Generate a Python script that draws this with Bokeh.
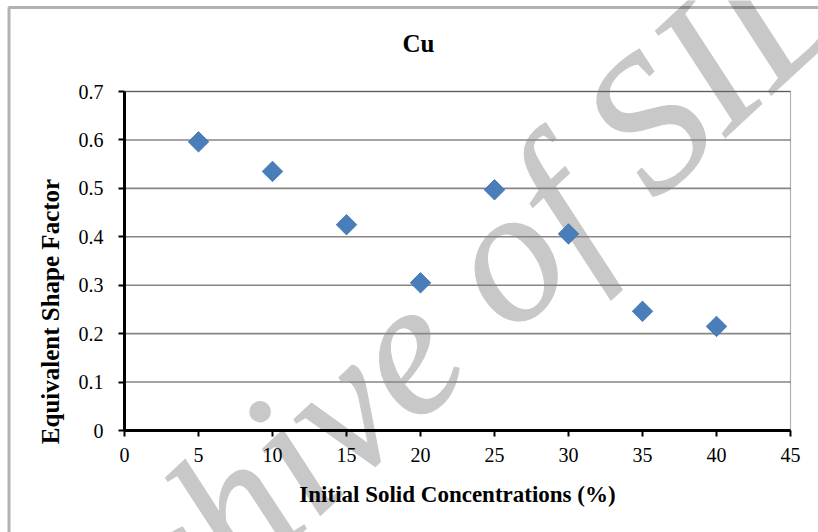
import math
from bokeh.plotting import figure
from bokeh.models import ColumnDataSource, FixedTicker, Label, BoxAnnotation, Range1d
from bokeh.embed import file_html
from bokeh.resources import INLINE

# ---- data ----
concentration = [5, 10, 15, 20, 25, 30, 35, 40]
shape_factor = [0.596, 0.535, 0.425, 0.305, 0.497, 0.406, 0.246, 0.215]
x_ticks = [0, 5, 10, 15, 20, 25, 30, 35, 40, 45]
x_tick_labels = ["0", "5", "10", "15", "20", "25", "30", "35", "40", "45"]
y_ticks = [0, 0.1, 0.2, 0.3, 0.4, 0.5, 0.6, 0.7]
y_tick_labels = ["0", "0.1", "0.2", "0.3", "0.4", "0.5", "0.6", "0.7"]
title_text = "Cu"
x_title = "Initial Solid Concentrations (%)"
y_title = "Equivalent Shape Factor"
watermark_text = "Archive of SID"

# ---- layout (pixels) ----
W, H = 818, 532
FL, FR, FT, FB = 124, 790, 91, 430      # plot-area edges on the canvas
X0, X1 = 0, 45
Y0, Y1 = 0, 0.7


def dx(px):
    return X0 + (px - FL) / (FR - FL) * (X1 - X0)


def dy(py):
    return Y0 + (FB - py) / (FB - FT) * (Y1 - Y0)


FONT = "Liberation Serif"
U = "canvas"

# the frame covers the whole canvas so that nothing is clipped;
# the data ranges are widened so that 0..45 / 0..0.7 land on the plot area
p = figure(width=W, height=H, output_backend="svg", toolbar_location=None,
           x_range=Range1d(dx(0), dx(W)), y_range=Range1d(dy(H), dy(0)),
           min_border=0)
try:
    p.title = None
except Exception:
    p.title.visible = False
p.background_fill_color = "white"
p.border_fill_color = "white"
p.outline_line_color = None
p.xgrid.visible = False
p.ygrid.visible = False

# watermark (under everything else)
wm = dict(x=415, y=338, x_units=U, y_units=U, text=watermark_text,
          angle=math.radians(43), text_align="center", text_baseline="middle",
          text_font=FONT, text_font_size="192px", text_font_style="italic",
          text_color="#c8c8c8", level="underlay")
if "text_outline_color" in Label.properties():
    wm["text_outline_color"] = "#c8c8c8"
p.add_layout(Label(**wm))

# horizontal gridlines
grid_src = ColumnDataSource(dict(x0=[X0] * len(y_ticks), x1=[X1] * len(y_ticks),
                                 y=y_ticks))
p.segment(x0="x0", x1="x1", y0="y", y1="y", source=grid_src,
          line_color="#868686", line_width=1.6)

# plot-area border
p.add_layout(BoxAnnotation(left=X0, right=X1, bottom=Y0, top=Y1,
                           fill_alpha=0, line_color="black", line_width=1.2))

# axes drawn at the data origin
xa, ya = p.xaxis[0], p.yaxis[0]
xa.fixed_location = Y0
ya.fixed_location = X0
xa.bounds = (X0, X1)
ya.bounds = (Y0, Y1)
for ax in (xa, ya):
    ax.axis_line_color = "black"
    ax.axis_line_width = 3
    ax.major_tick_line_color = "black"
    ax.major_tick_line_width = 2
    ax.major_tick_out = 6
    ax.major_tick_in = 0
    ax.minor_tick_line_color = None
    ax.major_label_text_font = FONT
    ax.major_label_text_font_size = "20px"
    ax.major_label_text_color = "black"

xa.ticker = FixedTicker(ticks=x_ticks)
xa.major_label_overrides = {t: l for t, l in zip(x_ticks, x_tick_labels)}
xa.major_label_standoff = 11
xa.axis_label = x_title
xa.axis_label_text_font = FONT
xa.axis_label_text_font_size = "23px"
xa.axis_label_text_font_style = "bold"
xa.axis_label_text_color = "black"
xa.axis_label_standoff = 17

ya.ticker = FixedTicker(ticks=y_ticks)
ya.major_label_overrides = {t: l for t, l in zip(y_ticks, y_tick_labels)}
ya.major_label_standoff = 15

# data
src = ColumnDataSource(dict(x=concentration, y=shape_factor))
p.scatter("x", "y", source=src, marker="square", size=14.5, angle=math.pi / 4,
          fill_color="#4A7EBB", line_color="#3F6FA9", line_width=0.8)

# chart title
p.add_layout(Label(x=418, y=43, x_units=U, y_units=U, text=title_text,
                   text_align="center", text_baseline="alphabetic",
                   text_font=FONT, text_font_size="25px", text_font_style="bold",
                   text_color="black"))

# y axis title (sits lower than the plot-area centre, as in the original)
p.add_layout(Label(x=50, y=311, x_units=U, y_units=U, text=y_title, angle=math.pi / 2,
                   text_align="center", text_baseline="alphabetic",
                   text_font=FONT, text_font_size="25px", text_font_style="bold",
                   text_color="black"))

# chart-area border (only its left and top edges fall inside the picture)
p.add_layout(BoxAnnotation(left=8.5, right=W + 20, top=7, bottom=H + 20,
                           left_units=U, right_units=U, top_units=U, bottom_units=U,
                           fill_alpha=0, line_color="black", line_width=3))

open("out.html", "w").write(file_html(p, INLINE))
